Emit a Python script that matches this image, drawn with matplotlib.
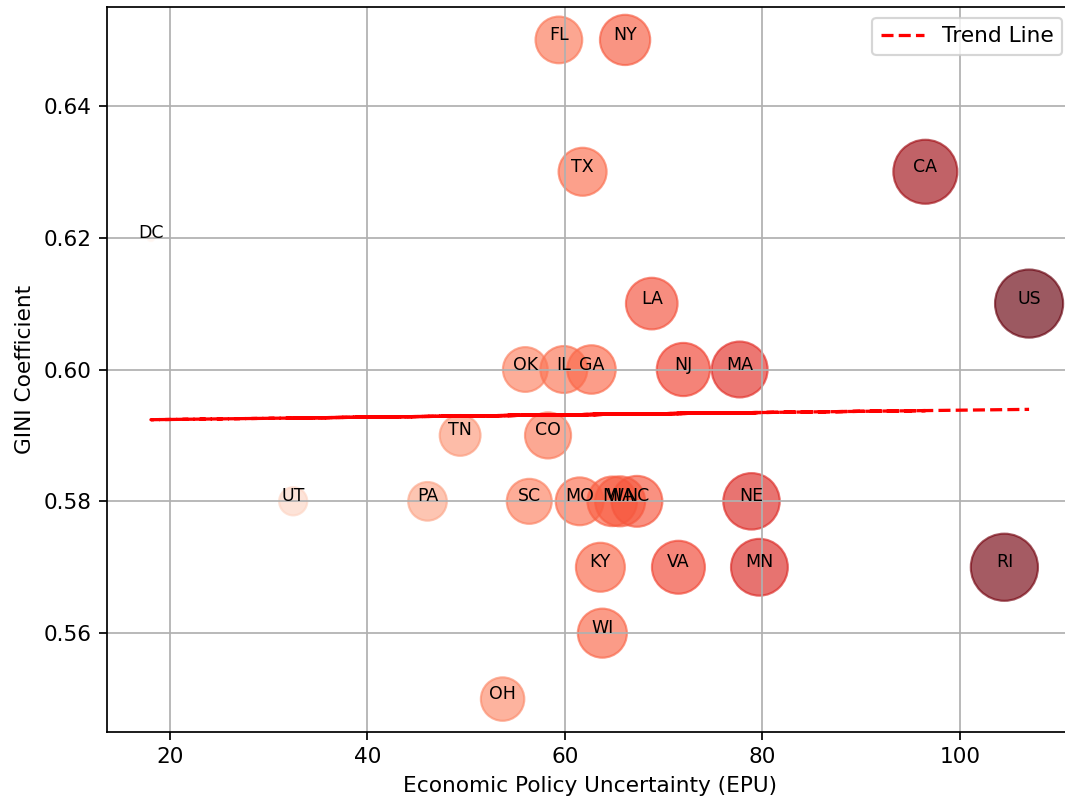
"""
    EPU vs GINI coefficient by state, bubble chart with trend line
"""

import numpy as np
import matplotlib
matplotlib.use("Agg")
import matplotlib.pyplot as plt

# state labels
states = ["FL", "NY", "TX", "CA", "DC", "LA", "OK", "IL", "GA", "NJ",
          "MA", "TN", "CO", "UT", "PA", "SC", "MO", "MI", "WA", "NC",
          "NE", "KY", "VA", "MN", "WI", "OH", "RI", "US"]
# economic policy uncertainty
epu = np.array([59.4, 66.1, 61.8, 96.5, 18.1, 68.8, 56.0, 59.9, 62.7, 72.0,
                77.7, 49.4, 58.3, 32.5, 46.1, 56.4, 61.5, 64.8, 65.6, 67.3,
                78.9, 63.6, 71.5, 79.7, 63.8, 53.7, 104.5, 107.0])
# gini coefficient
gini = np.array([0.65, 0.65, 0.63, 0.63, 0.62, 0.61, 0.60, 0.60, 0.60, 0.60,
                 0.60, 0.59, 0.59, 0.58, 0.58, 0.58, 0.58, 0.58, 0.58, 0.58,
                 0.58, 0.57, 0.57, 0.57, 0.56, 0.55, 0.57, 0.61])

DPI = 156
fig = plt.figure(figsize=(1065 / DPI, 801 / DPI), dpi=DPI)
ax = fig.add_axes([0.1005, 0.0861, 0.907, 0.9052])

sizes = 11 * (epu - epu.min()) + 10
ax.scatter(epu, gini, s=sizes, c=epu, cmap="Reds", alpha=0.65)

for i in range(len(states)):
    ax.text(epu[i], gini[i], states[i], fontsize=8, ha="center")

# linear trend
z = np.polyfit(epu, gini, 1)
p = np.poly1d(z)
ax.plot(epu, p(epu), "r--", label="Trend Line")

ax.set_xlabel("Economic Policy Uncertainty (EPU)")
ax.set_ylabel("GINI Coefficient")
ax.legend(loc="upper right")
ax.grid(True)

fig.savefig("out.png", dpi=DPI)
